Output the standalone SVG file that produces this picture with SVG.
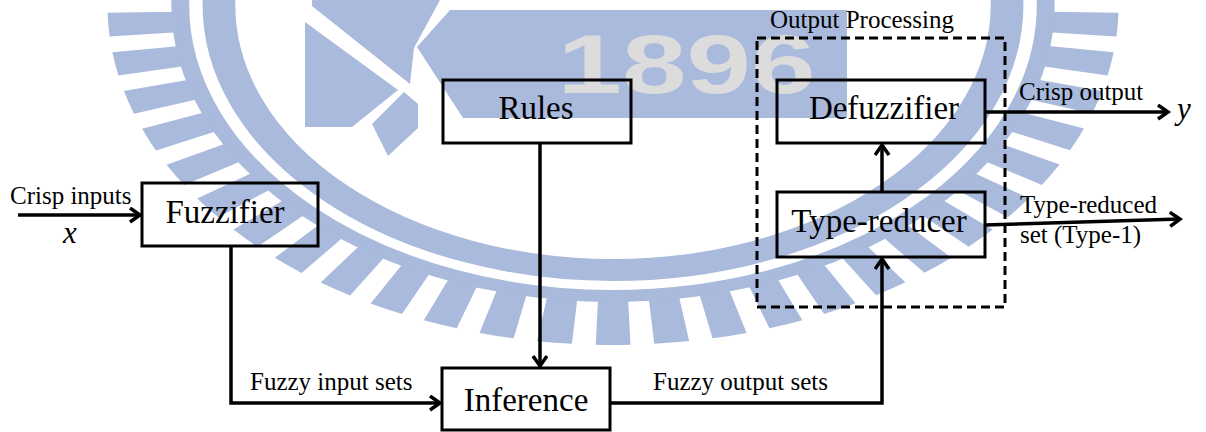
<svg xmlns="http://www.w3.org/2000/svg" width="1206" height="432" viewBox="0 0 1206 432">
  <defs>
    <style>
      .mark { fill: #a9badd; }
      .ring { fill: none; stroke: #a9badd; }
      .box { fill: none; stroke: #000; stroke-width: 3; }
      .dash { fill: none; stroke: #000; stroke-width: 3; stroke-dasharray: 9 5; }
      .wire { fill: none; stroke: #000; stroke-width: 3.5; }
      .lbl { font-family: "Liberation Serif", "Times New Roman", serif; font-size: 33px; fill: #000; text-anchor: middle; }
      .note { font-family: "Liberation Serif", "Times New Roman", serif; font-size: 25px; fill: #000; }
      .var { font-family: "Liberation Serif", "Times New Roman", serif; font-size: 31px; font-style: italic; fill: #000; }
    </style>
    <marker id="arrow" markerUnits="userSpaceOnUse" markerWidth="20" markerHeight="20" refX="13" refY="8" orient="auto">
      <path d="M3,1 L13,8 L3,15" fill="none" stroke="#000" stroke-width="3.5"/>
    </marker>
  </defs>

  <rect width="1206" height="432" fill="#fff"/>

  <!-- pale emblem in the background: toothed ring, torch and year plate -->
  <g id="emblem">
    <g transform="translate(613,5) scale(1.487,1)">
      <circle class="ring" r="265" stroke-width="22"/>
      <circle class="ring" r="291" stroke-width="12"/>
      <circle class="ring" r="317" stroke-width="46" stroke-dasharray="22 14.885" stroke-dashoffset="-7.3"/>
    </g>
    <polygon class="mark" points="312,0 440,0 414,48 410,84 312,6"/>
    <polygon class="mark" points="305,22 398,90 352,127 305,127"/>
    <polygon class="mark" points="372,124 404,92 418,104 418,128 388,156"/>
    <polygon class="mark" points="450,10 847,10 847,118 463,118 417,47"/>
    <text transform="scale(1.38,1)" x="404" y="93" font-family="'Liberation Sans', Arial, sans-serif" font-weight="bold" font-size="84" fill="#dcdcdc">1896</text>
  </g>

  <!-- connectors -->
  <g id="connectors">
    <line class="wire" x1="18" y1="215" x2="140" y2="215" marker-end="url(#arrow)"/>
    <path class="wire" d="M231,245 V403 H440" marker-end="url(#arrow)"/>
    <line class="wire" x1="540" y1="143" x2="540" y2="366" marker-end="url(#arrow)"/>
    <path class="wire" d="M610,403 H882 V259" marker-end="url(#arrow)"/>
    <line class="wire" x1="882" y1="192" x2="882" y2="145" marker-end="url(#arrow)"/>
    <line class="wire" x1="985" y1="112" x2="1168" y2="112" marker-end="url(#arrow)"/>
    <line class="wire" x1="985" y1="225" x2="1180" y2="219" marker-end="url(#arrow)"/>
  </g>

  <!-- output processing frame -->
  <g id="output-processing">
    <rect class="dash" x="757" y="38" width="248" height="269"/>
    <text class="note" x="770" y="28">Output Processing</text>
  </g>

  <g id="fuzzifier">
    <rect class="box" x="142" y="183" width="176" height="63"/>
    <text class="lbl" x="225" y="223">Fuzzifier</text>
  </g>
  <g id="rules">
    <rect class="box" x="443" y="80" width="188" height="63"/>
    <text class="lbl" x="536" y="119">Rules</text>
  </g>
  <g id="inference">
    <rect class="box" x="442" y="368" width="168" height="62"/>
    <text class="lbl" x="526" y="411">Inference</text>
  </g>
  <g id="defuzzifier">
    <rect class="box" x="777" y="80" width="208" height="63"/>
    <text class="lbl" x="884" y="119">Defuzzifier</text>
  </g>
  <g id="type-reducer">
    <rect class="box" x="777" y="192" width="208" height="65"/>
    <text class="lbl" x="879" y="232">Type-reducer</text>
  </g>

  <!-- edge labels -->
  <g id="labels">
    <text class="note" x="10" y="204">Crisp inputs</text>
    <text class="var" x="63" y="243">x</text>
    <text class="note" x="250" y="390">Fuzzy input sets</text>
    <text class="note" x="653" y="390">Fuzzy output sets</text>
    <text class="note" x="1019" y="100">Crisp output</text>
    <text class="var" x="1177" y="119">y</text>
    <text class="note" x="1020" y="213">Type-reduced</text>
    <text class="note" x="1020" y="243">set (Type-1)</text>
  </g>
</svg>
